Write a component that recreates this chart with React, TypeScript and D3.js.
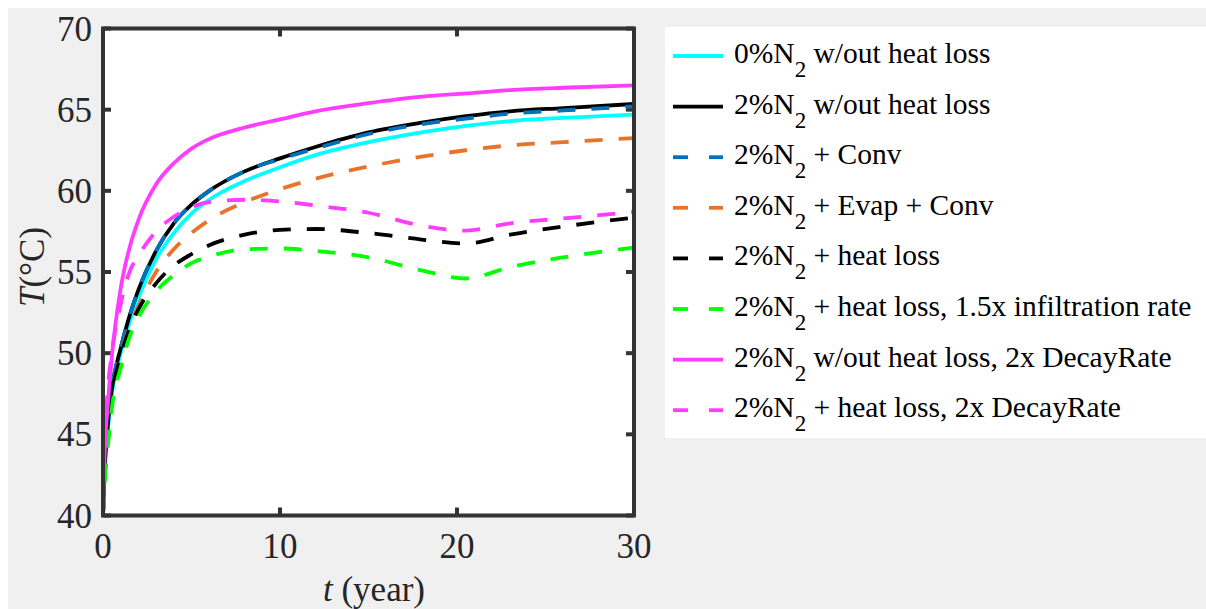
import React from 'react';
import * as d3 from 'd3';

// time (years)
const years = [0, 0.1, 0.25, 0.5, 1, 1.5, 2, 3, 4, 5, 6, 8, 10, 12, 15, 18, 20.5, 23, 26, 30];

// temperature series (°C)
const n0NoLoss = [40, 42.8, 45.0, 47.5, 50.0, 51.9, 53.4, 55.8, 57.4, 58.6, 59.45, 60.6, 61.45, 62.2, 63.0, 63.6, 64.0, 64.3, 64.5, 64.7];
const n2NoLoss = [40, 43.0, 45.3, 47.8, 50.3, 52.3, 53.9, 56.3, 58.0, 59.15, 60.0, 61.2, 62.0, 62.7, 63.6, 64.2, 64.6, 64.9, 65.1, 65.35];
const n2Conv = [40, 43.0, 45.3, 47.8, 50.3, 52.3, 53.9, 56.3, 58.0, 59.15, 60.0, 61.2, 61.95, 62.6, 63.5, 64.1, 64.45, 64.75, 64.95, 65.2];
const n2EvapConv = [40, 42.8, 45.0, 47.4, 49.8, 51.6, 52.9, 55.0, 56.4, 57.4, 58.2, 59.3, 60.1, 60.75, 61.5, 62.1, 62.5, 62.8, 63.0, 63.25];
const n2HeatLoss = [40, 42.8, 45.0, 47.4, 49.8, 51.5, 52.7, 54.3, 55.4, 56.1, 56.65, 57.3, 57.6, 57.65, 57.4, 57.0, 56.75, 57.3, 57.8, 58.35];
const n2HeatLossInfil = [40, 42.0, 44.0, 46.6, 49.1, 51.0, 52.2, 53.8, 54.8, 55.55, 55.95, 56.4, 56.45, 56.3, 55.9, 55.1, 54.6, 55.3, 55.9, 56.5];
const n2NoLossDecay = [40, 44.0, 46.5, 49.8, 54.0, 56.5, 58.2, 60.4, 61.7, 62.6, 63.2, 63.9, 64.4, 64.9, 65.4, 65.8, 66.0, 66.2, 66.35, 66.5];
const n2HeatLossDecay = [40, 44.5, 47.5, 50.0, 53.0, 55.0, 56.0, 57.5, 58.4, 59.0, 59.3, 59.45, 59.35, 59.1, 58.65, 57.85, 57.55, 58.0, 58.3, 58.7];

const legendLabels = [
  ['0%N', '2', ' w/out heat loss'],
  ['2%N', '2', ' w/out heat loss'],
  ['2%N', '2', ' + Conv'],
  ['2%N', '2', ' + Evap + Conv'],
  ['2%N', '2', ' + heat loss'],
  ['2%N', '2', ' + heat loss, 1.5x infiltration rate'],
  ['2%N', '2', ' w/out heat loss, 2x DecayRate'],
  ['2%N', '2', ' + heat loss, 2x DecayRate'],
];

const xTicks = [0, 10, 20, 30];
const yTicks = [40, 45, 50, 55, 60, 65, 70];

const seriesValues = [n0NoLoss, n2NoLoss, n2Conv, n2EvapConv, n2HeatLoss, n2HeatLossInfil, n2NoLossDecay, n2HeatLossDecay];
const seriesColors = ['#00ffff', '#000000', '#0072bd', '#e8732a', '#000000', '#00ff00', '#ff3cff', '#ff3cff'];
const seriesDashed = [false, false, true, true, true, true, false, true];

const FONT = "'Liberation Serif', serif";

export default function App() {
  const x0 = 103, x1 = 634, y0 = 28.5, y1 = 515.5;
  const x = d3.scaleLinear().domain([0, 30]).range([x0, x1]);
  const y = d3.scaleLinear().domain([40, 70]).range([y1, y0]);
  const line = d3
    .line<number>()
    .x((_, i) => x(years[i]))
    .y((d) => y(d))
    .curve(d3.curveMonotoneX);

  const axisColor = '#333333';
  const tickLen = 8;
  const legX = 665, legY = 27, legRow0 = 56, legStep = 50.6;
  const tf = { fontFamily: FONT };
  const lw = 3.8;

  return (
    <svg
      width={1198}
      height={601}
      style={{ position: 'absolute', left: 8, top: 8, display: 'block' }}
    >
      <g transform="translate(-8,-8)">
        <rect x={8} y={7} width={1198} height={602} fill="#f0f0f0" />
        <rect x={x0} y={y0} width={x1 - x0} height={y1 - y0} fill="#ffffff" />
        <defs>
          <clipPath id="plotClip">
            <rect x={x0 - 2} y={y0} width={x1 - x0 + 2} height={y1 - y0 + 2} />
          </clipPath>
        </defs>

        {/* ticks */}
        {xTicks.map((t) => (
          <g key={'xt' + t}>
            <line x1={x(t)} x2={x(t)} y1={y1} y2={y1 - tickLen} stroke={axisColor} strokeWidth={4} />
            <line x1={x(t)} x2={x(t)} y1={y0} y2={y0 + tickLen} stroke={axisColor} strokeWidth={4} />
            <text x={x(t)} y={558} textAnchor="middle" fontSize={35} fill="#262626" style={tf}>
              {t}
            </text>
          </g>
        ))}
        {yTicks.map((t) => (
          <g key={'yt' + t}>
            <line x1={x0} x2={x0 + tickLen} y1={y(t)} y2={y(t)} stroke={axisColor} strokeWidth={4} />
            <line x1={x1} x2={x1 - tickLen} y1={y(t)} y2={y(t)} stroke={axisColor} strokeWidth={4} />
            <text x={92} y={y(t) + 12} textAnchor="end" fontSize={35} fill="#262626" style={tf}>
              {t}
            </text>
          </g>
        ))}

        {/* series */}
        <g clipPath="url(#plotClip)">
          {seriesValues.map((vals, i) => (
            <path
              key={'s' + i}
              d={line(vals) || ''}
              fill="none"
              stroke={seriesColors[i]}
              strokeWidth={lw}
              strokeDasharray={seriesDashed[i] ? '18,16' : undefined}
            />
          ))}
        </g>

        {/* frame */}
        <rect x={x0} y={y0} width={x1 - x0} height={y1 - y0} fill="none" stroke={axisColor} strokeWidth={4} />

        {/* axis labels */}
        <text x={374} y={601} textAnchor="middle" fontSize={35} fill="#262626" style={tf}>
          <tspan fontStyle="italic">t</tspan>
          <tspan> (year)</tspan>
        </text>
        <text transform="translate(44,267) rotate(-90)" textAnchor="middle" fontSize={35} fill="#262626" style={tf}>
          <tspan fontStyle="italic">T</tspan>
          <tspan>(°C)</tspan>
        </text>

        {/* legend */}
        <rect x={legX} y={legY} width={1206 - legX} height={438 - legY} fill="#ffffff" />
        {legendLabels.map((lab, i) => {
          const ly = legRow0 + i * legStep;
          return (
            <g key={'lg' + i}>
              {seriesDashed[i] ? (
                <>
                  <line x1={673} x2={688} y1={ly} y2={ly} stroke={seriesColors[i]} strokeWidth={lw} />
                  <line x1={709} x2={723} y1={ly} y2={ly} stroke={seriesColors[i]} strokeWidth={lw} />
                </>
              ) : (
                <line x1={673} x2={723} y1={ly} y2={ly} stroke={seriesColors[i]} strokeWidth={lw} />
              )}
              <text x={734} y={ly + 7} fontSize={29.5} fill="#000000" style={tf}>
                <tspan>{lab[0]}</tspan>
                <tspan fontSize={23} dy={14}>{lab[1]}</tspan>
                <tspan dy={-14}>{lab[2]}</tspan>
              </text>
            </g>
          );
        })}
      </g>
    </svg>
  );
}
